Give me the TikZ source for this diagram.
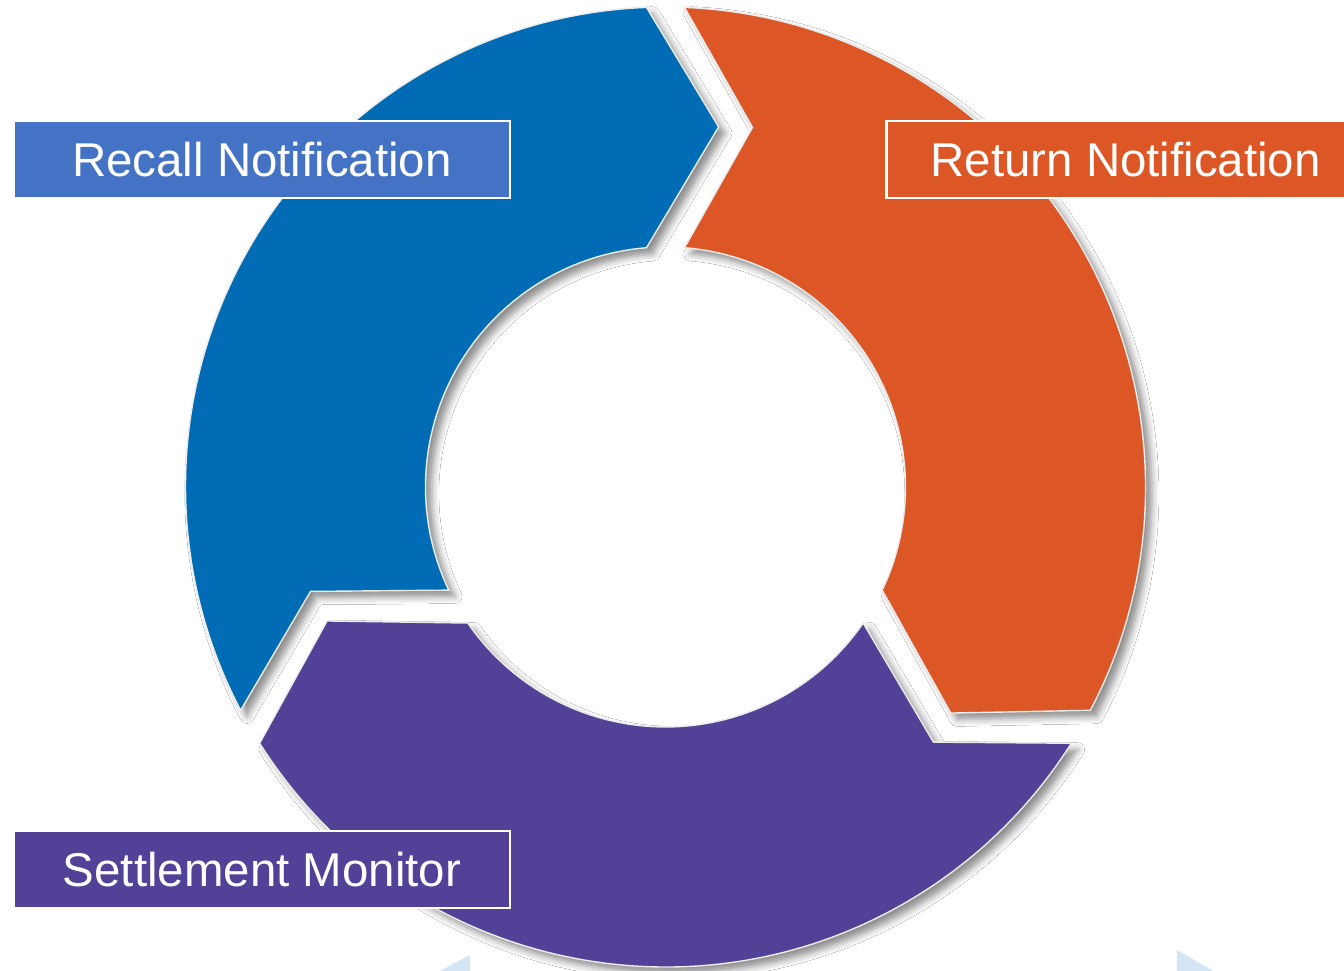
\documentclass[tikz,border=0pt]{standalone}
\usepackage{fontspec}
\setmainfont{Liberation Sans}
\usetikzlibrary{shadows.blur}

\definecolor{recallblau}{HTML}{006CB6}
\definecolor{returnorange}{HTML}{DD5726}
\definecolor{monitorlila}{HTML}{534097}
\definecolor{etikettblau}{HTML}{4472C4}
\definecolor{eckblau}{HTML}{D4E6F5}

\begin{document}
\begin{tikzpicture}[
  pfeil/.style={draw=white!85!gray, line width=0.4pt,
    blur shadow={shadow xshift=1.8pt, shadow yshift=-1.8pt,
      shadow blur radius=2pt, shadow opacity=45}},
  etikett/.style={draw=white, line width=0.7pt, text=white,
    minimum height=0.77cm, inner sep=0pt,
    font=\fontsize{13.5}{16}\selectfont}]
\useasboundingbox (-6.655,-4.84) rectangle (6.785,4.87);
\clip (-6.655,-4.84) rectangle (6.785,4.87);
\fill[white] (-6.655,-4.84) rectangle (6.785,4.87);

%Ecken unten
\fill[eckblau] (-2.37,-4.9) -- (-1.955,-4.68) -- (-1.955,-4.9) -- cycle;
\fill[eckblau] (5.115,-4.63) -- (5.115,-4.9) -- (5.578,-4.9) -- cycle;

%Lila Pfeil (unten)
\path[pfeil, fill=monitorlila] (-32.27:4.8) -- (-43.6:3.7) -- (-34.54:2.4)
  arc[start angle=-34.54, end angle=-145.46, radius=2.4cm]
  -- (-158.4:3.64) -- (-147.73:4.8)
  arc[start angle=-147.73, end angle=-32.27, radius=4.8cm] -- cycle;

%Oranger Pfeil (rechts)
\path[pfeil, fill=returnorange] (87.73:4.8) -- (76.4:3.7) -- (85.46:2.4)
  arc[start angle=85.46, end angle=-25.46, radius=2.4cm]
  -- (-38.4:3.64) -- (-27.73:4.8)
  arc[start angle=-27.73, end angle=87.73, radius=4.8cm] -- cycle;

%Blauer Pfeil (links)
\path[pfeil, fill=recallblau] (207.73:4.8) -- (196.4:3.7) -- (205.46:2.4)
  arc[start angle=205.46, end angle=94.54, radius=2.4cm]
  -- (81.6:3.64) -- (92.27:4.8)
  arc[start angle=92.27, end angle=207.73, radius=4.8cm] -- cycle;

%Beschriftungen
\node[etikett, fill=etikettblau, minimum width=4.96cm] (recall) at (-4.035,3.277) {Recall Notification};
\node[etikett, fill=returnorange, minimum width=4.78cm] (return) at (4.602,3.275) {Return Notification};
\node[etikett, fill=monitorlila, minimum width=4.96cm] (monitor) at (-4.035,-3.824) {Settlement Monitor};
\end{tikzpicture}
\end{document}
